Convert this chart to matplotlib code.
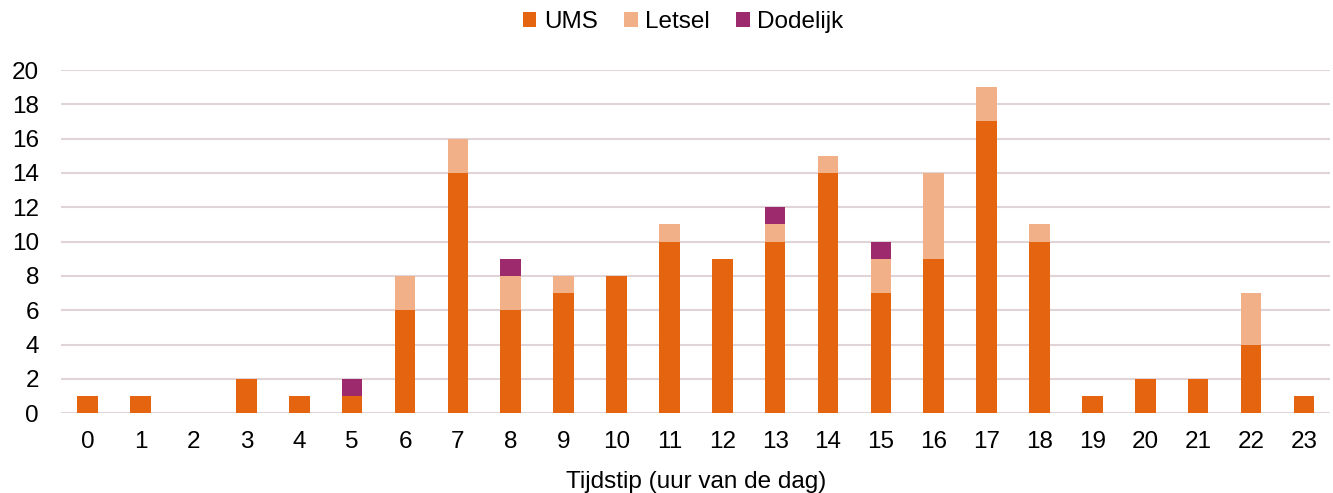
import matplotlib
matplotlib.use("Agg")
import matplotlib.pyplot as plt
import numpy as np

plt.rcParams['font.family'] = ['Liberation Sans', 'DejaVu Sans']

# Data per hour of day
hours = list(range(24))
ums = [1, 1, 0, 2, 1, 1, 6, 14, 6, 7, 8, 10, 9, 10, 14, 7, 9, 17, 10, 1, 2, 2, 4, 1]
letsel = [0, 0, 0, 0, 0, 0, 2, 2, 2, 1, 0, 1, 0, 1, 1, 2, 5, 2, 1, 0, 0, 0, 3, 0]
dodelijk = [0, 0, 0, 0, 0, 1, 0, 0, 1, 0, 0, 0, 0, 1, 0, 1, 0, 0, 0, 0, 0, 0, 0, 0]

fig = plt.figure(figsize=(13.33, 4.93), dpi=100)
ax = fig.add_axes([0.046, 0.162, 0.952, 0.696])

x = np.arange(len(hours))
w = 0.39
ums = np.array(ums)
letsel = np.array(letsel)
dodelijk = np.array(dodelijk)

ax.bar(x, ums, w, color='#E46410', label='UMS', zorder=3)
ax.bar(x, letsel, w, bottom=ums, color='#F2B088', label='Letsel', zorder=3)
ax.bar(x, dodelijk, w, bottom=ums + letsel, color='#9E2A6E', label='Dodelijk', zorder=3)

ax.set_xlim(-0.5, 23.5)
ax.set_ylim(0, 20)
ax.set_yticks(range(0, 21, 2))
ax.set_xticks(x)
ax.set_xticklabels([str(h) for h in hours])
ax.yaxis.grid(True, color='#E0D4D6', linewidth=1.5, zorder=0)
ax.set_axisbelow(True)
for s in ax.spines.values():
    s.set_visible(False)
ax.tick_params(axis='both', length=0, labelsize=17.5, colors='#000000')
ax.tick_params(axis='x', pad=13)
ax.tick_params(axis='y', pad=16)
ax.set_xlabel('Tijdstip (uur van de dag)', fontsize=17.5, labelpad=13)

ax.legend(loc='upper center', bbox_to_anchor=(0.49, 1.235), ncol=3, frameon=False,
          fontsize=17.5, handlelength=0.55, handleheight=0.55, handletextpad=0.3,
          columnspacing=1.1)

fig.savefig('out.png', dpi=100)
